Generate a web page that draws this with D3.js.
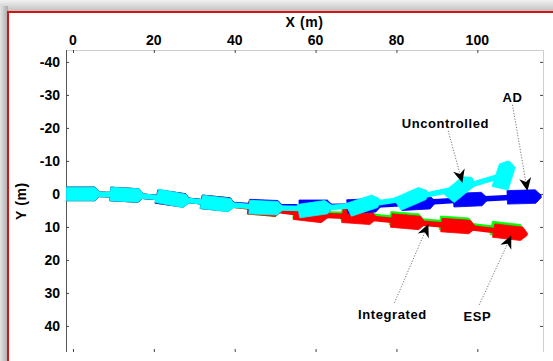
<!DOCTYPE html>
<html>
<head>
<meta charset="utf-8">
<script src="https://cdn.jsdelivr.net/npm/d3@7"></script>
<style>
  body { margin: 0; background: #fff; }
  svg text { font-family: "Liberation Sans", Arial, sans-serif; font-weight: bold; fill: #000; }
</style>
</head>
<body>
<svg width="553" height="361"></svg>
<script>
"use strict";

/* tick values */
var xTicks = [0, 20, 40, 60, 80, 100];
var yTicks = [-40, -30, -20, -10, 0, 10, 20, 30, 40];

/* vehicle snapshots: x (m), y (m), heading (deg) */
var espX = [2.6, 13.4, 24.8, 35.9, 47.5, 58.8, 70.6, 82.6, 94.9, 107.6];
var espY = [0, 0.3, 1.5, 2.9, 4.5, 5.9, 6.3, 7.8, 9.1, 10.9];
var espHead = [0, 4, 10, 7, 6, 8, 5, 6, 5, 8];

var intX = [2.6, 13.4, 24.8, 35.9, 47.5, 58.9, 70.8, 82.9, 95.3, 108.2];
var intY = [0, 0.3, 1.5, 2.9, 4.5, 6.3, 7.0, 8.5, 9.8, 11.7];
var intHead = [0, 4, 10, 7, 6, 8, 5, 6, 5, 8];

var adX = [2.6, 13.4, 24.8, 35.9, 47.8, 60.1, 72.0, 85.4, 98.3, 111.6];
var adY = [0, 0.3, 1.5, 2.9, 3.9, 3.9, 3.6, 2.7, 1.7, 0.9];
var adHead = [0, 4, 10, 7, 3, 0, -3, -4, -3, -2];

var uncX = [2.6, 13.4, 24.8, 35.9, 47.8, 59.9, 72.0, 83.9, 95.8, 106.7];
var uncY = [0, 0.3, 1.5, 3.0, 4.2, 4.5, 3.3, 1.2, -1.8, -5.8];
var uncHead = [0, 4, 13, 8, 3, -10, -22, -28, -45, -75];

/* annotations: label, text pos, line start, arrow tip (m) */
var noteLabels = ["AD", "Uncontrolled", "Integrated", "ESP"];
var noteText = [[108.7, -29.4], [92.1, -21.5], [79.0, 36.4], [100.0, 37.0]];
var noteFrom = [[108.7, -27.0], [92.8, -19.1], [79.5, 33.0], [100.5, 33.6]];
var noteTip = [[112.4, -0.9], [96.3, -3.4], [87.9, 9.1], [108.4, 12.6]];

var svg = d3.select("svg");

/* frame with shadow */
var defs = svg.append("defs");
var gTop = defs.append("linearGradient").attr("id", "shTop")
    .attr("x1", 0).attr("y1", 0).attr("x2", 0).attr("y2", 1);
gTop.append("stop").attr("offset", "0%").attr("stop-color", "#f2f2f2");
gTop.append("stop").attr("offset", "100%").attr("stop-color", "#bdbdbd");
var gLeft = defs.append("linearGradient").attr("id", "shLeft")
    .attr("x1", 0).attr("y1", 0).attr("x2", 1).attr("y2", 0);
gLeft.append("stop").attr("offset", "0%").attr("stop-color", "#e4e4e4");
gLeft.append("stop").attr("offset", "100%").attr("stop-color", "#a9a9a9");

svg.append("rect").attr("x", 0).attr("y", 0).attr("width", 553).attr("height", 12)
    .attr("fill", "url(#shTop)");
svg.append("rect").attr("x", 0).attr("y", 6).attr("width", 8).attr("height", 355)
    .attr("fill", "url(#shLeft)");
svg.append("rect").attr("x", 8).attr("y", 12).attr("width", 560).attr("height", 360)
    .attr("fill", "#fff").attr("stroke", "#d41515").attr("stroke-width", 2);

var box = {top: 50, left: 66, right: 543, bottom: 352};

var x = d3.scaleLinear().domain([-1.73, 116.25]).range([box.left, box.right]);
var y = d3.scaleLinear().domain([-43.6, 47.9]).range([box.top, box.bottom]);

defs.append("clipPath").attr("id", "plotClip")
  .append("rect")
    .attr("x", box.left).attr("y", box.top)
    .attr("width", box.right - box.left)
    .attr("height", box.bottom - box.top);

/* axes box */
svg.append("line").attr("x1", box.left).attr("x2", box.right)
    .attr("y1", box.top + 0.5).attr("y2", box.top + 0.5)
    .attr("stroke", "#cfcfcf");
svg.append("line").attr("x1", box.right + 0.5).attr("x2", box.right + 0.5)
    .attr("y1", box.top).attr("y2", box.bottom)
    .attr("stroke", "#cfcfcf");
svg.append("line").attr("x1", box.left + 0.5).attr("x2", box.left + 0.5)
    .attr("y1", box.top).attr("y2", box.bottom)
    .attr("stroke", "#555");

var axTop = svg.append("g")
    .attr("transform", "translate(0," + box.top + ")")
    .call(d3.axisBottom(x).tickValues(xTicks).tickSize(3).tickFormat(""));
axTop.select(".domain").remove();
axTop.selectAll("line").attr("stroke", "#444");

var axBottom = svg.append("g")
    .attr("transform", "translate(0," + box.bottom + ")")
    .call(d3.axisTop(x).tickValues(xTicks).tickSize(3).tickFormat(""));
axBottom.select(".domain").remove();
axBottom.selectAll("line").attr("stroke", "#444");

var axLeft = svg.append("g")
    .attr("transform", "translate(" + box.left + ",0)")
    .call(d3.axisRight(y).tickValues(yTicks).tickSize(3).tickFormat(""));
axLeft.select(".domain").remove();
axLeft.selectAll("line").attr("stroke", "#444");

var axRight = svg.append("g")
    .attr("transform", "translate(" + box.right + ",0)")
    .call(d3.axisLeft(y).tickValues(yTicks).tickSize(3).tickFormat(""));
axRight.select(".domain").remove();
axRight.selectAll("line").attr("stroke", "#444");

svg.append("g").selectAll("text")
  .data(xTicks)
  .enter().append("text")
    .attr("x", function(d) { return x(d); })
    .attr("y", 45)
    .attr("text-anchor", "middle")
    .style("font-size", "14px")
    .text(function(d) { return d; });

svg.append("g").selectAll("text")
  .data(yTicks)
  .enter().append("text")
    .attr("x", 60)
    .attr("y", function(d) { return y(d); })
    .attr("dy", "0.36em")
    .attr("text-anchor", "end")
    .style("font-size", "14px")
    .text(function(d) { return d; });

svg.append("text")
    .attr("x", (box.left + box.right) / 2)
    .attr("y", 27)
    .attr("text-anchor", "middle")
    .style("font-size", "14px")
    .style("letter-spacing", "0.6px")
    .text("X (m)");

svg.append("text")
    .attr("transform", "translate(26," + (box.top + box.bottom) / 2 + ") rotate(-90)")
    .attr("text-anchor", "middle")
    .style("font-size", "14px")
    .style("letter-spacing", "0.6px")
    .text("Y (m)");

/* vehicles */
var body = [[-4.2, -2.05], [2.8, -2.05], [4.2, -0.35], [4.2, 0.35], [2.8, 2.05], [-4.2, 2.05]];

function vehicle(cx, cy, deg) {
  var a = deg * Math.PI / 180, c = Math.cos(a), s = Math.sin(a);
  return body.map(function(p) {
    return [x(cx + p[0] * c - p[1] * s), y(cy + p[0] * s + p[1] * c)];
  });
}

var runs = [
  {xs: espX, ys: espY, hs: espHead, color: "#00ff00"},
  {xs: intX, ys: intY, hs: intHead, color: "#ff0000"},
  {xs: adX, ys: adY, hs: adHead, color: "#0000ff"},
  {xs: uncX, ys: uncY, hs: uncHead, color: "#00ffff"}
];

var plot = svg.append("g").attr("clip-path", "url(#plotClip)");
var line = d3.line().x(function(d) { return x(d[0]); }).y(function(d) { return y(d[1]); });

runs.forEach(function(r) {
  var pts = r.xs.map(function(v, i) { return [v, r.ys[i]]; });
  var g = plot.append("g");
  g.append("path")
      .attr("d", line(pts))
      .attr("fill", "none")
      .attr("stroke", r.color)
      .attr("stroke-width", 5.5);
  g.selectAll("polygon")
    .data(pts)
    .enter().append("polygon")
      .attr("points", function(d, i) { return vehicle(d[0], d[1], r.hs[i]).join(" "); })
      .attr("fill", r.color)
      .attr("stroke", r.color)
      .attr("stroke-width", 0.8);
});

/* annotations */
var notes = svg.append("g");
noteLabels.forEach(function(lab, i) {
  var x0 = x(noteFrom[i][0]), y0 = y(noteFrom[i][1]);
  var x1 = x(noteTip[i][0]), y1 = y(noteTip[i][1]);
  var ang = Math.atan2(y1 - y0, x1 - x0) * 180 / Math.PI;
  notes.append("line")
      .attr("x1", x0).attr("y1", y0).attr("x2", x1).attr("y2", y1)
      .attr("stroke", "#555")
      .attr("stroke-width", 0.8)
      .attr("stroke-dasharray", "1.2,1.6");
  notes.append("path")
      .attr("d", "M0,0L-13,-6L-9,0L-13,6Z")
      .attr("transform", "translate(" + x1 + "," + y1 + ") rotate(" + ang + ")")
      .attr("fill", "#000");
  notes.append("text")
      .attr("x", x(noteText[i][0]))
      .attr("y", y(noteText[i][1]))
      .attr("dy", "0.36em")
      .attr("text-anchor", "middle")
      .style("font-size", "13px")
      .style("letter-spacing", "0.6px")
      .text(lab);
});
</script>
</body>
</html>
